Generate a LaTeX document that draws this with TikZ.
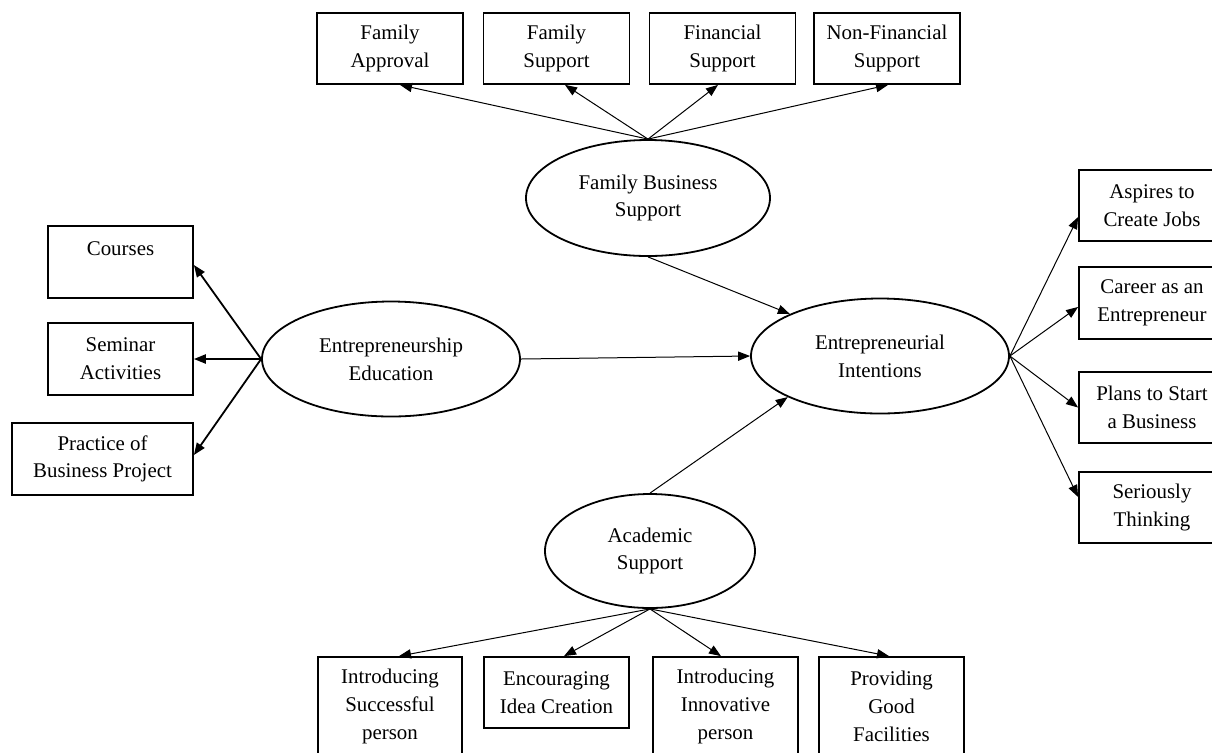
\documentclass[tikz,border=0pt]{standalone}
\usepackage{fontspec}
\setmainfont{Liberation Serif}
\usetikzlibrary{shapes.geometric,arrows.meta,calc}
\begin{document}
\begin{tikzpicture}[x=0.5pt,y=-0.5pt,
  font=\fontsize{10.45pt}{13.85pt}\selectfont,
  ibox/.style={draw,line width=0.9pt,rectangle,align=center,inner sep=0pt,
    minimum width=73pt,minimum height=35.5pt},
  tbox/.style={ibox,minimum height=49.5pt},
  lat/.style={draw,line width=0.9pt,ellipse,align=center,inner sep=0pt},
  arr/.style={-{Triangle[length=6pt,width=4.6pt]},line width=0.5pt},
  barr/.style={-{Triangle[length=6pt,width=4.6pt]},line width=0.9pt}]
\useasboundingbox (0,0) rectangle (1212,752);

% latent constructs
\node[lat,minimum width=122pt,minimum height=58pt] (fbs) at (648,198) {Family Business\\Support};
\node[lat,minimum width=129pt,minimum height=57.5pt] (ee) at (391,359) {Entrepreneurship\\Education};
\node[lat,minimum width=129pt,minimum height=57.5pt] (ei) at (880,356) {Entrepreneurial\\Intentions};
\node[lat,minimum width=105pt,minimum height=57pt] (as) at (650,551) {Academic\\Support};

% top indicators
\node[ibox] (fa) at (390,48.5) {Family\\Approval};
\node[ibox] (fs) at (556.5,48.5) {Family\\Support};
\node[ibox] (fins) at (722.5,48.5) {Financial\\Support};
\node[ibox] (nfs) at (887,48.5) {Non-Financial\\Support};

% left indicators
\node[ibox,minimum width=72.5pt,minimum height=36pt] (courses) at (120.5,262) {Courses\\\mbox{}};
\node[ibox,minimum width=72.5pt,minimum height=36pt] (seminar) at (120.5,359) {Seminar\\Activities};
\node[ibox,minimum width=90.5pt,minimum height=36pt] (practice) at (102.5,459) {Practice of\\Business Project};

% right indicators
\node[ibox] (asp) at (1152,205.5) {Aspires to\\Create Jobs};
\node[ibox,minimum height=36pt] (car) at (1152,303) {Career as an\\Entrepreneur};
\node[ibox] (plans) at (1152,407.5) {Plans to Start\\a Business};
\node[ibox] (ser) at (1152,507.5) {Seriously\\Thinking};

% bottom indicators
\node[tbox,minimum width=72pt] (is) at (390,706.5) {Introducing\\Successful\\person};
\node[ibox,minimum width=72.5pt] (eic) at (556.5,692.5) {Encouraging\\Idea Creation};
\node[tbox,minimum width=72.5pt] (iii) at (725.5,706.5) {Introducing\\Innovative\\person};
\node[tbox,minimum width=72.5pt] (pgf) at (891.5,706.5) {Providing\\Good\\Facilities};

% structural paths
\draw[arr] (fbs.south) -- (ei.155);
\draw[arr] (ee.east) -- (ei.west);
\draw[arr] (as.north) -- (ei.204);

% family business support indicators
\draw[arr] (fbs.north) -- ($(fa.south)+(10,0)$);
\draw[arr] (fbs.north) -- ($(fs.south)+(8.5,0)$);
\draw[arr] (fbs.north) -- ($(fins.south)+(-4.5,0)$);
\draw[arr] (fbs.north) -- ($(nfs.south)+(1,0)$);

% entrepreneurship education indicators
\draw[barr] (ee.west) -- ($(courses.east)+(0,3)$);
\draw[barr] (ee.west) -- (seminar.east);
\draw[barr] (ee.west) -- ($(practice.east)+(0,-4)$);

% entrepreneurial intentions indicators
\draw[arr] (ei.east) -- ($(asp.west)+(0,11.5)$);
\draw[arr] (ei.east) -- ($(car.west)+(0,4)$);
\draw[arr] (ei.east) -- (plans.west);
\draw[arr] (ei.east) -- ($(ser.west)+(0,-10.5)$);

% academic support indicators
\draw[arr] (as.south) -- ($(is.north)+(9,0)$);
\draw[arr] (as.south) -- ($(eic.north)+(7.5,0)$);
\draw[arr] (as.south) -- ($(iii.north)+(-4.5,0)$);
\draw[arr] (as.south) -- ($(pgf.north)+(-2.5,0)$);
\end{tikzpicture}
\end{document}
